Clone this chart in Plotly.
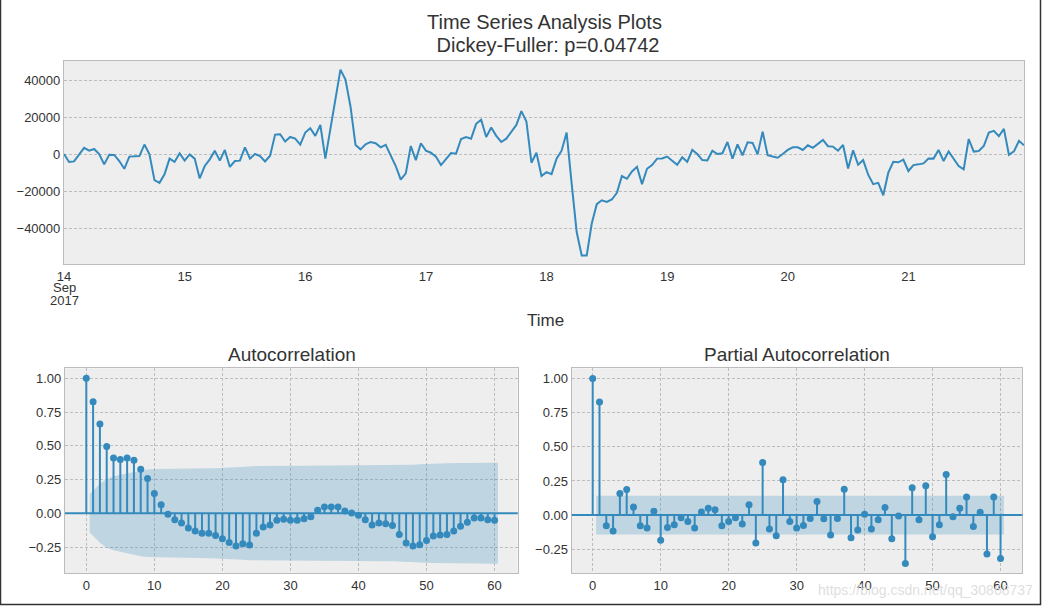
import numpy as np
import pandas as pd
import plotly.graph_objects as go

# ---------------- data ----------------
start_time = "2017-09-14 00:00"
series_values = [
    0, -4300, -4000, 0, 3300, 1800, 2700, 0, -5600, -400, -500, -3800, -8000, -1400, -1300, -1100, 5100, -200, -14100, -15600, -11000, -2500, -4300, 400,
    -3600, -200, -2500, -13200, -6500, -2900, 1800, -3600, 2200, -7000, -3800, -3600, 3600, -2500, 0, -1100, -4000, -900, 10500, 10700, 6700, 9200, 8300, 5100,
    11600, 13900, 9800, 15700, -2500, 13000, 29000, 45600, 40200, 25700, 4900, 2500, 5200, 6500, 5800, 3600, 4900, -1000, -6500, -13800, -10500, 4300, -3300, 5800,
    1800, 700, -1400, -6000, -2900, 500, 200, 8100, 9200, 8300, 16300, 18500, 9200, 14300, 9800, 6500, 8300, 12300, 15700, 23200, 17600, -4700, 700, -11900,
    -9800, -10900, -2500, 1800, 11600, -15900, -42200, -54800, -54800, -37600, -27100, -25000, -25900, -24600, -21000, -11900, -13400, -9400, -6900, -16300, -8000, -6000, -2500, -2400,
    -1400, -3600, -5800, -1800, -4200, 2200, 0, -3300, -3500, 1800, 0, 400, 6500, -2500, 5200, -700, 6300, 6000, -200, 12100, -700, -1400, -2000, 0,
    2200, 3600, 3600, 2200, 4700, 3300, 5400, 7600, 4200, 4000, 1800, 4900, -7800, 2000, -5800, -3300, -11200, -16300, -15600, -22300, -10100, -4200, -4500, -3100,
    -9200, -6000, -5600, -5100, -2400, -2500, 2200, -3800, 1400, -2400, -6500, -8300, 8100, 1300, 1600, 4300, 11600, 12500, 9600, 13600, -400, 1400, 7100, 4700,
]

acf_values = [
    1.0, 0.827, 0.662, 0.494, 0.41, 0.398, 0.41, 0.393, 0.326, 0.257, 0.146,
    0.064, -0.007, -0.047, -0.072, -0.109, -0.131, -0.148, -0.148, -0.165, -0.188,
    -0.217, -0.242, -0.225, -0.235, -0.148, -0.101, -0.086, -0.052, -0.044, -0.052,
    -0.052, -0.040, -0.025, 0.022, 0.047, 0.047, 0.047, 0.017, 0.002, -0.015,
    -0.047, -0.086, -0.072, -0.077, -0.091, -0.156, -0.220, -0.242, -0.232, -0.202,
    -0.168, -0.160, -0.156, -0.131, -0.096, -0.067, -0.035, -0.035, -0.047, -0.052,
]

pacf_values = [
    1.0, 0.829, -0.078, -0.117, 0.159, 0.188, 0.059, -0.078, -0.095, 0.029,
    -0.185, -0.090, -0.071, -0.020, -0.046, -0.095, 0.022, 0.051, 0.039, -0.078,
    -0.046, -0.020, -0.066, 0.076, -0.205, 0.385, -0.102, -0.152, 0.259, -0.046,
    -0.095, -0.076, -0.024, 0.100, -0.027, -0.146, -0.024, 0.190, -0.166, -0.110,
    0.007, -0.102, -0.034, 0.056, -0.173, -0.007, -0.354, 0.200, -0.034, 0.215,
    -0.159, -0.071, 0.298, -0.012, 0.051, 0.132, -0.083, 0.020, -0.285, 0.132, -0.317,
]

day_ticks = ["2017-09-14", "2017-09-15", "2017-09-16", "2017-09-17",
             "2017-09-18", "2017-09-19", "2017-09-20", "2017-09-21"]
day_labels = ["14", "15", "16", "17", "18", "19", "20", "21"]
month_label = "Sep"
year_label = "2017"
ts_ticks = [-40000, -20000, 0, 20000, 40000]
corr_ticks = [-0.25, 0.0, 0.25, 0.5, 0.75, 1.0]
lag_ticks = [0, 10, 20, 30, 40, 50, 60]

title_text = "Time Series Analysis Plots"
subtitle_text = " Dickey-Fuller: p=0.04742"
watermark = "https://blog.csdn.net/qq_30868737"

# ---------------- derived ----------------
n_obs = len(series_values)
times = pd.date_range(start_time, periods=n_obs, freq="h")
acf_arr = np.array(acf_values)
pacf_arr = np.array(pacf_values)
lags = np.arange(len(acf_arr))
z = 1.959963984540054

# statsmodels-style confidence bands
var_acf = np.ones(len(acf_arr)) / n_obs
var_acf[0] = 0
var_acf[2:] *= 1 + 2 * np.cumsum(acf_arr[1:-1] ** 2)
acf_band = z * np.sqrt(var_acf)
pacf_band = np.full(len(pacf_arr), z / np.sqrt(n_obs))

band_x = lags[1:].astype(float)
band_x[0] -= 0.5
band_x[-1] += 0.5

W, H = 1043, 607
BLUE = "#348ABD"
FONT = "Liberation Sans, Arial, sans-serif"
TXT = "#333333"


def px(x):
    return x / W


def py(y):
    return 1 - y / H


fig = go.Figure()

# top time series
fig.add_trace(go.Scatter(x=times, y=series_values, mode="lines",
                         line=dict(color=BLUE, width=2), xaxis="x", yaxis="y",
                         showlegend=False, hoverinfo="skip"))


def add_corr(vals, band, xa, ya):
    vals = np.asarray(vals)
    bx = list(band_x) + list(band_x[::-1])
    by = list(band[1:]) + list(-band[1:][::-1])
    fig.add_trace(go.Scatter(x=bx, y=by, fill="toself", mode="lines",
                             fillcolor="rgba(52,138,189,0.25)", line=dict(width=0),
                             xaxis=xa, yaxis=ya, showlegend=False, hoverinfo="skip"))
    sx, sy = [], []
    for k, v in zip(lags, vals):
        sx += [k, k, None]
        sy += [0, v, None]
    fig.add_trace(go.Scatter(x=sx, y=sy, mode="lines", line=dict(color=BLUE, width=2),
                             xaxis=xa, yaxis=ya, showlegend=False, hoverinfo="skip"))
    fig.add_trace(go.Scatter(x=lags, y=vals, mode="markers",
                             marker=dict(color=BLUE, size=7),
                             xaxis=xa, yaxis=ya, showlegend=False, hoverinfo="skip"))
    fig.add_shape(type="line", xref=xa + " domain", yref=ya, x0=0, x1=1, y0=0, y1=0,
                  line=dict(color=BLUE, width=2), layer="above")


add_corr(acf_values, acf_band, "x2", "y2")
add_corr(pacf_values, pacf_band, "x3", "y3")

grid = dict(gridcolor="#bdbdbd", griddash="3px,2px", gridwidth=0.6)
spine = dict(showline=True, mirror=True, linecolor="#bcbcbc", linewidth=1.2,
             ticks="", zeroline=False, automargin=False)
tickfont = dict(family=FONT, size=13, color=TXT)


def fmt(v, f):
    s = format(v, f)
    return s.replace("-", "\u2212")


fig.update_layout(
    width=W, height=H,
    margin=dict(l=0, r=0, t=0, b=0, pad=0),
    paper_bgcolor="white",
    plot_bgcolor="#eeeeee",
    font=dict(family=FONT, color=TXT),
    xaxis=dict(domain=[px(64), px(1024)], anchor="y", type="date",
               range=[times[0], times[-1]], tickvals=day_ticks, ticktext=day_labels,
               showgrid=False, tickfont=tickfont, **spine),
    yaxis=dict(domain=[py(264), py(61)], anchor="x", range=[-59460, 50270],
               tickvals=ts_ticks, ticktext=[fmt(v, "d") for v in ts_ticks],
               showgrid=True, tickfont=tickfont, **grid, **spine),
    xaxis2=dict(domain=[px(65), px(517.7)], anchor="y2", range=[-3.13, 63.4],
                tickvals=lag_ticks, ticktext=[str(v) for v in lag_ticks],
                showgrid=True, tickfont=tickfont, **grid, **spine),
    yaxis2=dict(domain=[py(573), py(368.3)], anchor="x2", range=[-0.442, 1.074],
                tickvals=corr_ticks, ticktext=[fmt(v, ".2f") for v in corr_ticks],
                showgrid=True, tickfont=tickfont, **grid, **spine),
    xaxis3=dict(domain=[px(571.7), px(1022.3)], anchor="y3", range=[-3.09, 63.2],
                tickvals=lag_ticks, ticktext=[str(v) for v in lag_ticks],
                showgrid=True, tickfont=tickfont, **grid, **spine),
    yaxis3=dict(domain=[py(573), py(368.3)], anchor="x3", range=[-0.424, 1.075],
                tickvals=corr_ticks, ticktext=[fmt(v, ".2f") for v in corr_ticks],
                showgrid=True, tickfont=tickfont, **grid, **spine),
)

ann = [
    dict(text=title_text, x=px(544), y=py(22), size=20),
    dict(text=subtitle_text, x=px(545), y=py(45), size=20),
    dict(text="Time", x=px(545), y=py(321), size=17),
    dict(text="Autocorrelation", x=px(291.5), y=py(354), size=19),
    dict(text="Partial Autocorrelation", x=px(797), y=py(354), size=19),
    dict(text=month_label, x=px(64), y=py(287), size=13),
    dict(text=year_label, x=px(64), y=py(300), size=13),
]
for a in ann:
    fig.add_annotation(text=a["text"], x=a["x"], y=a["y"], xref="paper", yref="paper",
                       xanchor="center", yanchor="middle", showarrow=False,
                       font=dict(family=FONT, size=a["size"], color=TXT))

fig.add_annotation(text=watermark, x=px(1035), y=py(590), xref="paper", yref="paper",
                   xanchor="right", yanchor="middle", showarrow=False,
                   font=dict(family=FONT, size=14, color="rgba(220,220,220,0.95)"))

# screenshot frame
for (x0, y0, x1, y1) in [(0.5, 0, 0.5, 605), (1040.5, 0, 1040.5, 605), (0, 604.5, 1041, 604.5)]:
    fig.add_shape(type="line", xref="paper", yref="paper",
                  x0=px(x0), x1=px(x1), y0=py(y0), y1=py(y1),
                  line=dict(color="#333333", width=1.5))

fig.write_html("out.html", config={"displayModeBar": False},
               post_script="document.body.style.margin='0px';")
